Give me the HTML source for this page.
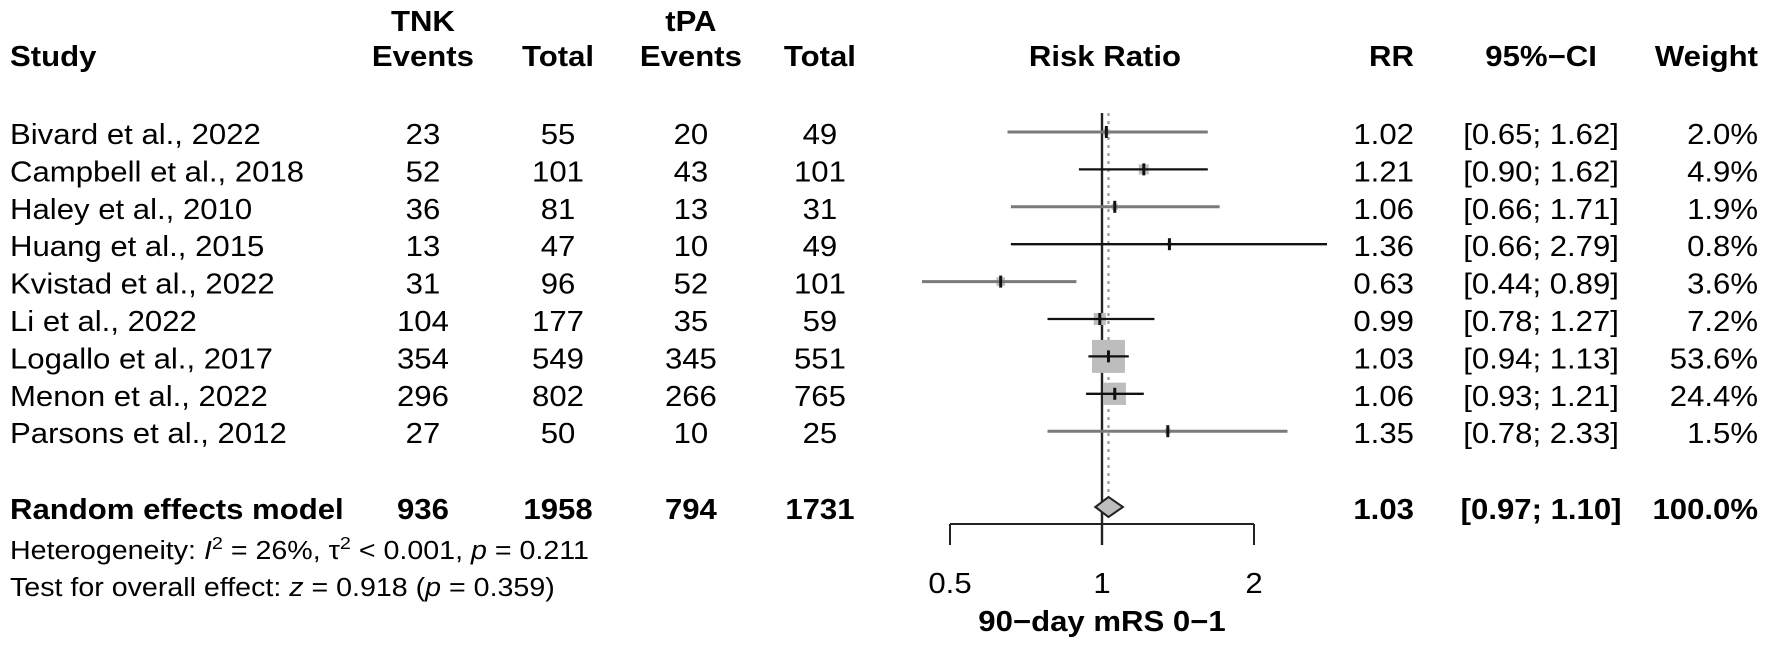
<!DOCTYPE html>
<html><head><meta charset="utf-8">
<style>
html,body{margin:0;padding:0;background:#fff;}
svg{display:block;font-family:"Liberation Sans",Arial,sans-serif;}
</style></head>
<body>
<svg id="chart" width="1772" height="646" viewBox="0 0 1772 646" xmlns="http://www.w3.org/2000/svg">
<g id="root" transform="scale(1.1,1)" font-size="28.3" fill="#000">
  <g font-weight="bold">
    <text x="384.5" y="31" text-anchor="middle">TNK</text>
    <text x="628.1" y="31" text-anchor="middle">tPA</text>
    <text x="9.1" y="66">Study</text>
    <text x="384.5" y="66" text-anchor="middle">Events</text>
    <text x="507.3" y="66" text-anchor="middle">Total</text>
    <text x="628.1" y="66" text-anchor="middle">Events</text>
    <text x="745.4" y="66" text-anchor="middle">Total</text>
    <text x="1004.5" y="66" text-anchor="middle">Risk Ratio</text>
    <text x="1285.4" y="66" text-anchor="end">RR</text>
    <text x="1401" y="66" text-anchor="middle">95%−CI</text>
    <text x="1598.2" y="66" text-anchor="end">Weight</text>
  </g>
  <g id="rows"></g>
  <g id="plot"></g>
  <g font-weight="bold">
    <text x="9.1" y="519">Random effects model</text>
    <text x="384.5" y="519" text-anchor="middle">936</text>
    <text x="507.3" y="519" text-anchor="middle">1958</text>
    <text x="628.1" y="519" text-anchor="middle">794</text>
    <text x="745.4" y="519" text-anchor="middle">1731</text>
    <text x="1285.4" y="519" text-anchor="end">1.03</text>
    <text x="1401" y="519" text-anchor="middle">[0.97; 1.10]</text>
    <text x="1598.2" y="519" text-anchor="end">100.0%</text>
  </g>
  <text x="9.1" y="559" font-size="26">Heterogeneity: <tspan font-style="italic">I</tspan><tspan dy="-10" font-size="18">2</tspan><tspan dy="10"> = 26%, τ</tspan><tspan dy="-10" font-size="18">2</tspan><tspan dy="10"> &lt; 0.001, </tspan><tspan font-style="italic">p</tspan> = 0.211</text>
  <text x="9.1" y="596" font-size="26">Test for overall effect: <tspan font-style="italic">z</tspan> = 0.918 (<tspan font-style="italic">p</tspan> = 0.359)</text>
  <text id="xtitle" y="631" text-anchor="middle" font-weight="bold">90−day mRS 0−1</text>
</g>
</svg>
<script>
const studies = ["Bivard et al., 2022","Campbell et al., 2018","Haley et al., 2010","Huang et al., 2015","Kvistad et al., 2022","Li et al., 2022","Logallo et al., 2017","Menon et al., 2022","Parsons et al., 2012"];
const tnkEvents = [23,52,36,13,31,104,354,296,27];
const tnkTotal = [55,101,81,47,96,177,549,802,50];
const tpaEvents = [20,43,13,10,52,35,345,266,10];
const tpaTotal = [49,101,31,49,101,59,551,765,25];
const rr = [1.02,1.21,1.06,1.36,0.63,0.99,1.03,1.06,1.35];
const lower = [0.65,0.90,0.66,0.66,0.44,0.78,0.94,0.93,0.78];
const upper = [1.62,1.62,1.71,2.79,0.89,1.27,1.13,1.21,2.33];
const weights = [2.0,4.9,1.9,0.8,3.6,7.2,53.6,24.4,1.5];
const pooled = [1.03,0.97,1.10];
const ticks = [0.5,1,2];
const tickLabels = ["0.5","1","2"];
const lineGrey = [true,false,true,false,true,false,false,false,true];

const NS="http://www.w3.org/2000/svg";
const SX=1.1;
function X(v){return (1102+152*Math.log2(v))/SX;}
function rowY(i){return 132+37.4*i;}
function mk(tag,attrs,parent){const e=document.createElementNS(NS,tag);for(const k in attrs)e.setAttribute(k,attrs[k]);parent.appendChild(e);return e;}

const rows=document.getElementById('rows');
const plot=document.getElementById('plot');
const fmt2=v=>v.toFixed(2);
studies.forEach((s,i)=>{
  const y=rowY(i)+12;
  const cols=[[s,9.1,'start'],[tnkEvents[i],384.5,'middle'],[tnkTotal[i],507.3,'middle'],[tpaEvents[i],628.1,'middle'],[tpaTotal[i],745.4,'middle'],[fmt2(rr[i]),1285.4,'end'],['['+fmt2(lower[i])+'; '+fmt2(upper[i])+']',1401,'middle'],[weights[i].toFixed(1)+'%',1598.2,'end']];
  const names=['study-name','tnk-events','tnk-total','tpa-events','tpa-total','rr-value','ci-value','weight-value'];
  cols.forEach((c,j)=>{
    const t=mk('text',{x:c[1],y:y,'text-anchor':c[2]},rows);
    
    
    t.textContent=c[0];
  });
});

const ref=mk('line',{x1:X(1),x2:X(1),y1:113,y2:545,stroke:'#222','stroke-width':2.2},plot);


const pl=mk('line',{x1:X(pooled[0]),x2:X(pooled[0]),y1:113,y2:497,stroke:'#999','stroke-width':2,'stroke-dasharray':'3,5'},plot);



studies.forEach((s,i)=>{
  const y=rowY(i);
  const size=33*Math.sqrt(weights[i]/53.6);
  const box=mk('rect',{x:X(rr[i])-size/2/SX,y:y-size/2,width:size/SX,height:size,fill:'#bdbdbd'},plot);
  
  
  const ln=mk('line',{x1:X(lower[i]),x2:X(upper[i]),y1:y,y2:y,stroke:lineGrey[i]?'#7a7a7a':'#111','stroke-width':lineGrey[i]?3:2.3},plot);
  
  
  const pt=mk('line',{x1:X(rr[i]),x2:X(rr[i]),y1:y-6,y2:y+6,stroke:'#111','stroke-width':3/SX},plot);
  
  
});

const dy=507;
const dm=mk('polygon',{points:`${X(pooled[1])},${dy} ${X(pooled[0])},${dy-10} ${X(pooled[2])},${dy} ${X(pooled[0])},${dy+10}`,fill:'#bdbdbd',stroke:'#222','stroke-width':2},plot);



const ax=mk('line',{x1:X(ticks[0]),x2:X(ticks[ticks.length-1]),y1:524,y2:524,stroke:'#222','stroke-width':2},plot);


ticks.forEach((t,i)=>{
  const tk=mk('line',{x1:X(t),x2:X(t),y1:524,y2:545,stroke:'#222','stroke-width':2/SX},plot);
  
  
  const lb=mk('text',{x:X(t),y:593,'text-anchor':'middle'},plot);
  
  
  lb.textContent=tickLabels[i];
});
document.getElementById('xtitle').setAttribute('x',X(1));
</script>
</body></html>
